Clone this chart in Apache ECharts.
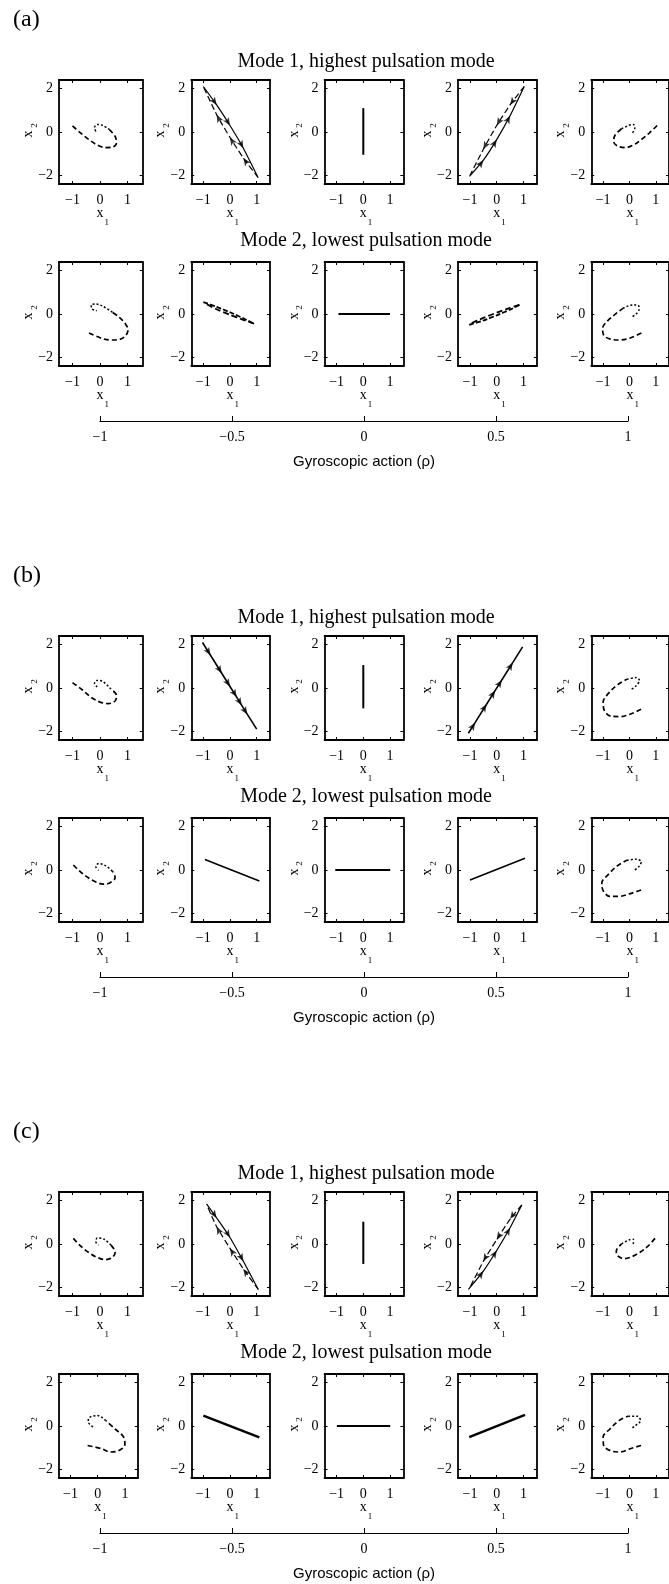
<!DOCTYPE html>
<html>
<head>
<meta charset="utf-8">
<script src="https://cdn.jsdelivr.net/npm/echarts@6/dist/echarts.min.js"></script>
<style>
  html, body { margin: 0; padding: 0; background: #fff; }
  #chart { width: 669px; height: 1584px; }
</style>
</head>
<body>
<div id="chart"></div>
<script>
// ---- data ----
const rhoValues = [-1, -0.5, 0, 0.5, 1];
const x1TickValues = [-1, 0, 1];
const x2TickValues = [-2, 0, 2];
const panelNames = ['(a)', '(b)', '(c)'];
const modeTitles = ['Mode 1, highest pulsation mode', 'Mode 2, lowest pulsation mode'];
const rhoTitle = 'Gyroscopic action (\u03c1)';

// trajectories [x1, x2], one list per rho value
const aMode1 = [
  [[-1.0, 0.28], [-0.7, -0.05], [-0.4, -0.35], [-0.1, -0.6], [0.2, -0.72], [0.45, -0.7], [0.6, -0.5], [0.55, -0.2], [0.35, 0.1], [0.1, 0.3], [-0.1, 0.35], [-0.2, 0.2], [-0.15, 0.02]],
  [[-1.0, 2.1], [-0.5, 1.25], [0, 0.3], [0.5, -0.75], [1.05, -2.1], [0.5, -1.2], [0, -0.25], [-0.5, 0.8], [-0.98, 2.05]],
  [[0, 1.1], [0, -1.05]],
  [[-1.02, -2.05], [-0.5, -1.3], [0, -0.35], [0.5, 0.75], [1.03, 2.1], [0.5, 1.25], [0, 0.3], [-0.5, -0.8], [-1.0, -2.0]],
  [[1.05, 0.3], [0.75, -0.05], [0.45, -0.35], [0.15, -0.6], [-0.15, -0.72], [-0.45, -0.65], [-0.6, -0.45], [-0.55, -0.15], [-0.3, 0.15], [0.0, 0.32], [0.15, 0.35], [0.2, 0.15], [0.1, -0.05]]
];
const aMode2 = [
  [[-0.4, -0.88], [0.06, -1.12], [0.38, -1.2], [0.68, -1.18], [0.92, -1.02], [1.02, -0.72], [0.92, -0.45], [0.7, -0.15], [0.45, 0.08], [0.1, 0.36], [-0.15, 0.46], [-0.32, 0.42], [-0.3, 0.25], [-0.12, 0.15]],
  [[-1.0, 0.55], [-0.5, 0.33], [0, 0.08], [0.5, -0.2], [0.9, -0.45], [0.5, -0.27], [0, -0.04], [-0.5, 0.22], [-0.95, 0.5]],
  [[-0.93, 0], [0.85, 0], [1.0, 0]],
  [[-1.03, -0.5], [-0.5, -0.3], [0, -0.06], [0.5, 0.2], [0.85, 0.42], [0.5, 0.28], [0, 0.06], [-0.5, -0.18], [-1.0, -0.45]],
  [[0.45, -0.88], [0, -1.12], [-0.38, -1.2], [-0.75, -1.15], [-0.98, -0.98], [-1.02, -0.66], [-0.86, -0.35], [-0.5, 0.03], [-0.25, 0.26], [0.12, 0.42], [0.35, 0.38], [0.36, 0.2], [0.12, -0.12]]
];
const bMode1 = [
  [[-1.0, 0.25], [-0.65, -0.08], [-0.3, -0.45], [0, -0.65], [0.3, -0.72], [0.55, -0.6], [0.6, -0.35], [0.4, -0.05], [0.1, 0.3], [-0.12, 0.35], [-0.2, 0.2], [-0.1, 0.05]],
  [[-1.03, 2.1], [-0.73, 1.51], [-0.31, 0.68], [0.0, 0.07], [0.25, -0.42], [0.44, -0.8], [0.65, -1.22], [1.0, -1.9]],
  [[0, 1.06], [0, -0.94]],
  [[-1.06, -2.09], [-0.81, -1.6], [-0.38, -0.75], [-0.06, -0.12], [0.19, 0.37], [0.6, 1.17], [0.97, 1.9]],
  [[0.44, -0.98], [0, -1.22], [-0.35, -1.32], [-0.7, -1.3], [-0.95, -1.05], [-1.0, -0.65], [-0.8, -0.25], [-0.45, 0.15], [-0.1, 0.4], [0.25, 0.48], [0.38, 0.35], [0.25, 0.1], [0.05, -0.08]]
];
const bMode2 = [
  [[-0.97, 0.23], [-0.7, -0.1], [-0.4, -0.38], [-0.15, -0.55], [0.1, -0.65], [0.35, -0.6], [0.55, -0.35], [0.45, -0.05], [0.2, 0.2], [-0.05, 0.3], [-0.15, 0.15], [-0.05, -0.02]],
  [[-0.94, 0.49], [1.1, -0.51]],
  [[-1.05, 0], [1.01, 0]],
  [[-1.0, -0.46], [1.06, 0.54]],
  [[0.44, -0.92], [0, -1.1], [-0.4, -1.22], [-0.75, -1.22], [-1.0, -0.95], [-1.05, -0.6], [-0.8, -0.2], [-0.45, 0.2], [-0.1, 0.45], [0.25, 0.5], [0.45, 0.38], [0.35, 0.15], [0.2, 0.0]]
];
const cMode1 = [
  [[-0.97, 0.26], [-0.7, -0.1], [-0.4, -0.4], [-0.1, -0.62], [0.2, -0.72], [0.45, -0.62], [0.55, -0.38], [0.4, -0.05], [0.15, 0.22], [-0.1, 0.28], [-0.15, 0.1], [-0.05, -0.05]],
  [[-0.88, 1.85], [-0.5, 1.2], [0, 0.3], [0.5, -0.8], [1.06, -2.1], [0.5, -1.15], [0, -0.2], [-0.5, 0.8], [-0.85, 1.75]],
  [[0, 1.03], [0, -0.92]],
  [[-1.06, -2.09], [-0.5, -1.25], [0, -0.3], [0.5, 0.75], [0.94, 1.8], [0.5, 1.15], [0, 0.2], [-0.5, -0.8], [-1.0, -2.0]],
  [[0.97, 0.26], [0.7, -0.1], [0.4, -0.38], [0.1, -0.58], [-0.2, -0.68], [-0.45, -0.55], [-0.5, -0.32], [-0.3, 0.0], [0.0, 0.2], [0.15, 0.22], [0.15, 0.05], [0.05, -0.05]]
];
const cMode2 = [
  [[-0.37, -0.9], [0.15, -1.05], [0.45, -1.2], [0.75, -1.15], [1.0, -0.85], [0.95, -0.5], [0.65, -0.15], [0.3, 0.25], [0.0, 0.48], [-0.3, 0.4], [-0.35, 0.2], [-0.1, -0.1]],
  [[-1.0, 0.48], [1.1, -0.52]],
  [[-0.99, 0], [1.01, 0]],
  [[-1.03, -0.51], [1.06, 0.51]],
  [[0.44, -0.9], [0, -1.06], [-0.35, -1.2], [-0.7, -1.15], [-0.98, -0.9], [-1.0, -0.5], [-0.75, -0.15], [-0.4, 0.25], [-0.05, 0.45], [0.3, 0.45], [0.42, 0.25], [0.2, 0.0], [0.05, -0.15]]
];

// how each trajectory is stroked
const aKinds = [['spiral', 'loop', 'bar', 'loop', 'spiral'], ['spiral', 'thinloop', 'bar', 'thinloop', 'spiral']];
const bKinds = [['spiral', 'arrowline', 'bar', 'arrowline', 'spiral'], ['spiral', 'line', 'bar', 'line', 'spiral']];
const cKinds = [['spiral', 'loop', 'bar', 'loop', 'spiral'], ['spiral', 'thickline', 'bar', 'thickline', 'spiral']];

// ---- layout ----
const SERIF = '"Liberation Serif", "Times New Roman", serif';
const SANS = '"Liberation Sans", Arial, sans-serif';
const panelOffset = [0, 556, 1112];
const rowTop = [80, 262];
const boxH = 104;
const yMin = -2.4, yMax = 2.4;
const yUnit = boxH / (yMax - yMin);
const colZero = [100, 230, 363.3, 496.7, 630];
const minus = v => (v < 0 ? '\u2212' + Math.abs(v) : String(v));

function colGeom(ci, narrow) {
  if (ci === 0 && !narrow) return { zero: colZero[0], unit: 27.5, min: -1.49, max: 1.55 };
  if (ci === 0) return { zero: 97.7, unit: 27.2, min: -1.42, max: 1.47 };
  return { zero: colZero[ci], unit: 26.7, min: -1.45, max: 1.5 };
}

function txt(str, x, y, size, align, family, rot) {
  return {
    type: 'text', x, y, rotation: rot || 0, silent: true,
    style: { text: str, x: 0, y: 0, font: size + 'px ' + family, fill: '#000', textAlign: align, textVerticalAlign: 'middle' }
  };
}

const grid = [], xAxis = [], yAxis = [], series = [], graphic = [];

function boxAxis(gi, pos, min, max, ticks, labels) {
  return {
    gridIndex: gi, type: 'value', min, max, position: pos,
    axisLine: { show: true, onZero: false, lineStyle: { color: '#000', width: 1.8 } },
    axisTick: { show: true, inside: true, length: 3, customValues: ticks, lineStyle: { color: '#000', width: 1 } },
    axisLabel: { show: labels, customValues: ticks, formatter: minus, margin: pos === 'bottom' ? 9 : 6, color: '#000', fontFamily: SERIF, fontSize: 14 },
    splitLine: { show: false }
  };
}

function lineSeries(gi, data, style) {
  return Object.assign({
    type: 'line', xAxisIndex: gi * 2, yAxisIndex: gi * 2, data,
    symbol: 'none', silent: true, animation: false, clip: false
  }, style);
}

// small arrowheads on the interior points of a path, pointing along it
function arrowSeries(gi, path, unit, skip) {
  const data = [];
  for (let i = 1; i < path.length - 1; i++) {
    if (i === skip) continue;
    const dx = (path[i + 1][0] - path[i - 1][0]) * unit;
    const dy = (path[i + 1][1] - path[i - 1][1]) * yUnit;
    data.push({ value: path[i], symbolRotate: Math.atan2(dy, dx) * 180 / Math.PI - 90 });
  }
  return {
    type: 'scatter', xAxisIndex: gi * 2, yAxisIndex: gi * 2, data,
    symbol: 'arrow', symbolSize: [5, 8], itemStyle: { color: '#000' },
    silent: true, animation: false
  };
}

function addTrajectory(gi, path, kind, unit) {
  const black = '#000';
  if (kind === 'spiral') {
    const cut = Math.round(path.length * 0.6);
    series.push(lineSeries(gi, path.slice(0, cut + 1), { smooth: 0.35, lineStyle: { color: black, width: 1.7, type: [5, 3] } }));
    series.push(lineSeries(gi, path.slice(cut), { smooth: 0.35, lineStyle: { color: black, width: 1.5, type: [2, 2] } }));
  } else if (kind === 'loop' || kind === 'thinloop') {
    const mid = Math.floor(path.length / 2);
    const w = kind === 'loop' ? 1.2 : 1.8;
    series.push(lineSeries(gi, path.slice(0, mid + 1), { smooth: 0.2, lineStyle: { color: black, width: w, type: kind === 'loop' ? 'solid' : [5, 2] } }));
    series.push(lineSeries(gi, path.slice(mid), { smooth: 0.2, lineStyle: { color: black, width: w, type: [6, 3] } }));
    if (kind === 'loop') series.push(arrowSeries(gi, path, unit, mid));
  } else if (kind === 'bar') {
    series.push(lineSeries(gi, path, { lineStyle: { color: black, width: 2 } }));
  } else if (kind === 'arrowline') {
    series.push(lineSeries(gi, path, { lineStyle: { color: black, width: 1.6 } }));
    series.push(arrowSeries(gi, path, unit, -1));
  } else {
    series.push(lineSeries(gi, path, { lineStyle: { color: black, width: kind === 'thickline' ? 2.4 : 1.6 } }));
  }
}

const panels = [
  { rows: [aMode1, aMode2], kinds: aKinds },
  { rows: [bMode1, bMode2], kinds: bKinds },
  { rows: [cMode1, cMode2], kinds: cKinds }
];

panels.forEach((p, pi) => {
  const off = panelOffset[pi];
  graphic.push(txt(panelNames[pi], 13, off + 20, 24, 'left', SERIF));
  p.rows.forEach((paths, ri) => {
    const top = off + rowTop[ri];
    graphic.push(txt(modeTitles[ri], 366, top - (ri === 0 ? 18 : 21), 20, 'center', SERIF));
    paths.forEach((path, ci) => {
      const g = colGeom(ci, pi === 2 && ri === 1);
      const left = g.zero + g.min * g.unit;
      const width = (g.max - g.min) * g.unit;
      const gi = grid.length;
      grid.push({ left, top, width, height: boxH });
      xAxis.push(boxAxis(gi, 'bottom', g.min, g.max, x1TickValues, true));
      xAxis.push(boxAxis(gi, 'top', g.min, g.max, x1TickValues, false));
      yAxis.push(boxAxis(gi, 'left', yMin, yMax, x2TickValues, true));
      yAxis.push(boxAxis(gi, 'right', yMin, yMax, x2TickValues, false));
      addTrajectory(gi, path, p.kinds[ri][ci], g.unit);
      // x1 / x2 labels with subscripts
      graphic.push(txt('x', g.zero, top + boxH + 29.5, 14, 'center', SERIF));
      graphic.push(txt('1', g.zero + 6.7, top + boxH + 38.5, 9, 'center', SERIF));
      graphic.push(txt('x', left - 30.5, top + boxH / 2 + 2, 14, 'center', SERIF, Math.PI / 2));
      graphic.push(txt('2', left - 24.5, top + boxH / 2 - 6.5, 9, 'center', SERIF, Math.PI / 2));
    });
  });
  // gyroscopic action axis under each panel
  const lineY = off + 421;
  const gi = grid.length;
  grid.push({ left: 100, width: 528, top: lineY - 10, height: 10 });
  xAxis.push({
    gridIndex: gi, type: 'value', min: rhoValues[0], max: rhoValues[rhoValues.length - 1], interval: 0.5, position: 'bottom',
    axisLine: { show: true, onZero: false, lineStyle: { color: '#000', width: 1.2 } },
    axisTick: { show: true, inside: true, length: 5, lineStyle: { color: '#000', width: 1 } },
    axisLabel: { formatter: minus, margin: 9, color: '#000', fontFamily: SERIF, fontSize: 14 },
    splitLine: { show: false },
    name: rhoTitle, nameLocation: 'middle', nameGap: 33,
    nameTextStyle: { fontFamily: SANS, fontSize: 15, color: '#000' }
  });
  xAxis.push({ gridIndex: gi, type: 'value', show: false, min: -1, max: 1 });
  yAxis.push({ gridIndex: gi, type: 'value', show: false, min: 0, max: 1 });
  yAxis.push({ gridIndex: gi, type: 'value', show: false, min: 0, max: 1 });
});

const chart = echarts.init(document.getElementById('chart'));
chart.setOption({
  animation: false,
  backgroundColor: '#fff',
  grid, xAxis, yAxis, series, graphic
});
</script>
</body>
</html>
